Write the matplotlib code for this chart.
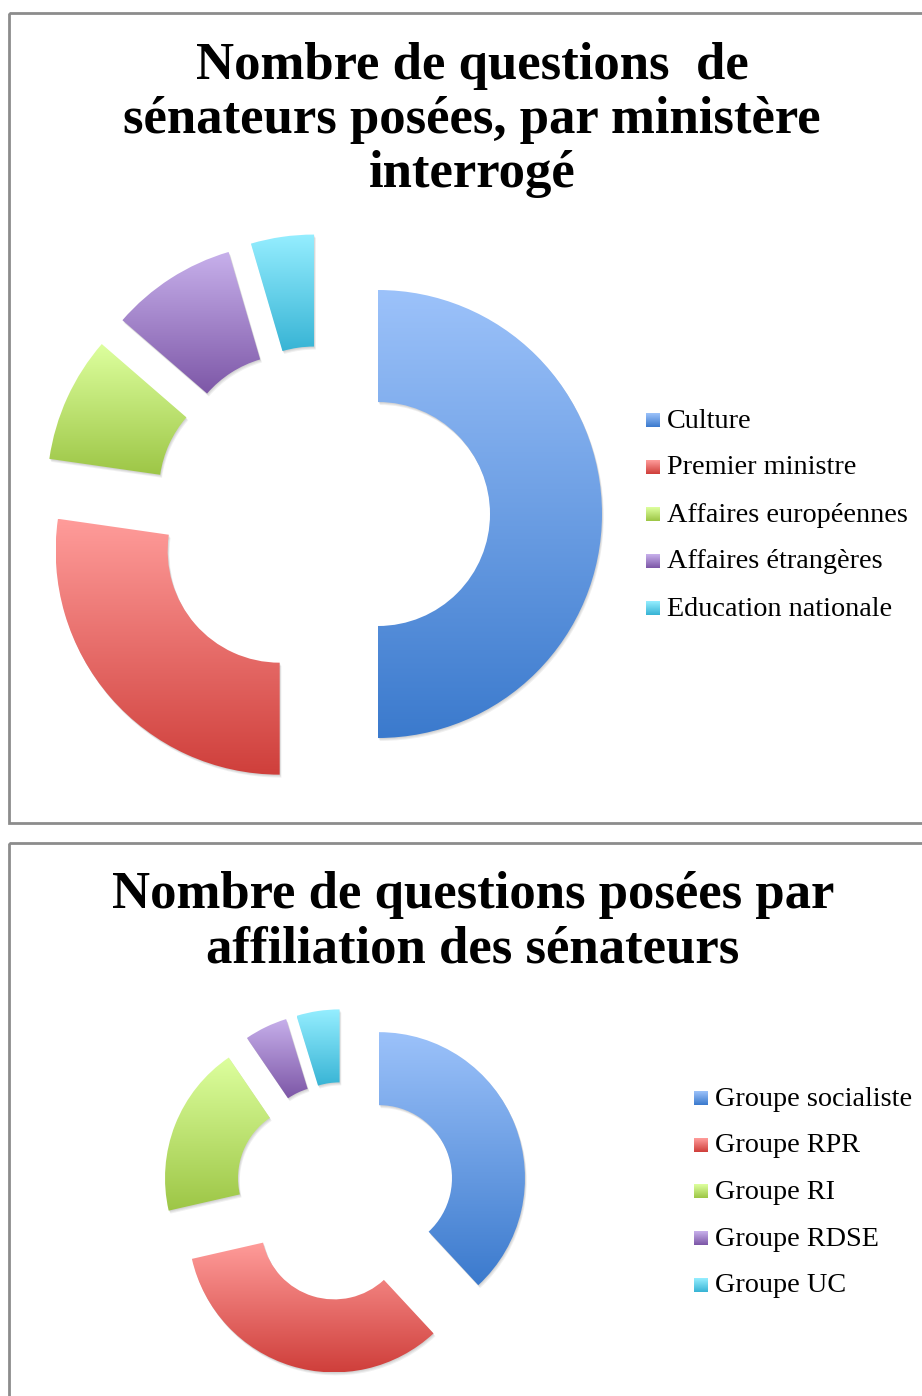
import matplotlib
matplotlib.use("Agg")
import matplotlib.pyplot as plt
import numpy as np
from matplotlib.colors import LinearSegmentedColormap
from matplotlib.patches import Rectangle, PathPatch
from matplotlib.transforms import Affine2D

# top chart: questions per ministry
ministeres = ["Culture", "Premier ministre", "Affaires européennes",
              "Affaires étrangères", "Education nationale"]
questions_min = [22, 12, 4, 4, 2]

# bottom chart: questions per group
groupes = ["Groupe socialiste", "Groupe RPR", "Groupe RI",
           "Groupe RDSE", "Groupe UC"]
questions_grp = [8, 7, 4, 1, 1]

titre_1 = "Nombre de questions  de\nsénateurs posées, par ministère\ninterrogé"
titre_2 = "Nombre de questions posées par\naffiliation des sénateurs"

# (light top, dark bottom) for each slice
grads = [("#9cc2fa", "#3b7acd"),
         ("#ff9c9a", "#cf3f3b"),
         ("#ddff9e", "#9dc646"),
         ("#c7b0eb", "#7d57a7"),
         ("#95eeff", "#38b4d5")]

W, H = 922, 1396
fig = plt.figure(figsize=(W / 100, H / 100), dpi=100)
font = "Liberation Serif"

# overlay in pixel coordinates for frames, titles and legends
over = fig.add_axes([0, 0, 1, 1], zorder=5)
over.set_xlim(0, W)
over.set_ylim(H, 0)
over.axis("off")
over.patch.set_alpha(0)

for y0, y1 in [(12.5, 823), (843, 1420)]:
    over.add_patch(Rectangle((9, y0), 940, y1 - y0, fill=False,
                             edgecolor="#8c8c8c", lw=2))


def donut(cx, cy, R, values):
    S = R * 1.35
    ax = fig.add_axes([(cx - S) / W, (H - cy - S) / H, 2 * S / W, 2 * S / H])
    wedges, _ = ax.pie(values, startangle=90, counterclock=False,
                       explode=[0.25] * len(values),
                       wedgeprops=dict(width=0.5, linewidth=0))
    for w, (c0, c1) in zip(wedges, grads):
        path = w.get_path()
        ext = path.get_extents()
        # soft shadow, offsets in pixels
        for px in [3.0, 2.0, 1.0]:
            k = px / R
            sp = path.transformed(Affine2D().translate(k * 0.6, -k))
            ax.add_patch(PathPatch(sp, facecolor="#000000", alpha=0.06,
                                   lw=0, zorder=1))
        w.set_facecolor("none")
        w.set_zorder(3)
        cmap = LinearSegmentedColormap.from_list("g", [c1, c0])
        grad = np.linspace(0, 1, 256).reshape(-1, 1)
        im = ax.imshow(grad, cmap=cmap, origin="lower", aspect="auto",
                       extent=[ext.x0, ext.x1, ext.y0, ext.y1], zorder=2,
                       interpolation="bilinear")
        im.set_clip_path(w)
    lim = S / R
    ax.set_xlim(-lim, lim)
    ax.set_ylim(-lim, lim)
    ax.set_aspect("auto")
    ax.axis("off")


def legend(x, y0, dy, labels):
    for i, lab in enumerate(labels):
        y = y0 + i * dy
        c0, c1 = grads[i]
        cmap = LinearSegmentedColormap.from_list("g", [c0, c1])
        grad = np.linspace(0, 1, 32).reshape(-1, 1)
        over.imshow(grad, cmap=cmap, aspect="auto",
                    extent=[x, x + 14, y + 7, y - 7], zorder=6)
        over.text(x + 21, y + 1, lab, fontsize=20.3, family=font,
                  va="center", ha="left", zorder=7)


donut(322, 514, 224, questions_min)
donut(345, 1191.5, 146, questions_grp)

over.set_xlim(0, W)
over.set_ylim(H, 0)
over.set_aspect("auto")

over.text(472, 120, titre_1, fontsize=38, family=font, weight="bold",
          ha="center", va="center", linespacing=1.17, zorder=7)
over.text(473, 922, titre_2, fontsize=38, family=font, weight="bold",
          ha="center", va="center", linespacing=1.17, zorder=7)

legend(646, 420, 47, ministeres)
legend(694, 1098, 46.7, groupes)

fig.savefig("out.png", dpi=100, facecolor="white")
